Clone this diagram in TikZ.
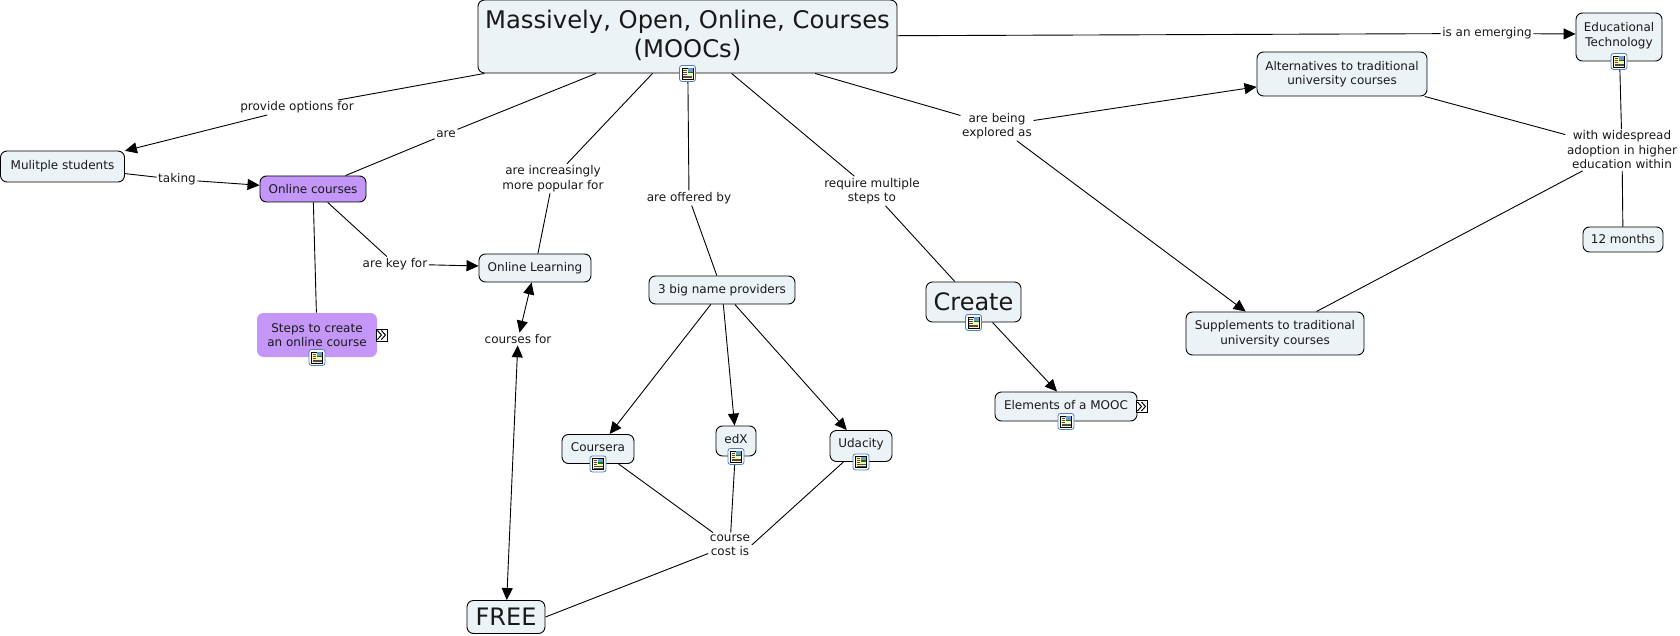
\documentclass[tikz,border=0pt]{standalone}
\usepackage{fontspec}
\setmainfont{DejaVu Sans}
\usetikzlibrary{arrows.meta}
\definecolor{nodefill}{HTML}{ECF3F6}
\definecolor{nodepurple}{HTML}{C496F8}
\definecolor{iconblue}{HTML}{4A80C8}
\definecolor{iconpage}{HTML}{FFF6B8}
\newcommand{\raisedtxt}[1]{\raisebox{1pt}[\dimexpr\height-1pt][\depth]{#1}}
\tikzset{
    mynode/.style = {rectangle, rounded corners=6.5pt, draw=black, line width=0.9pt, align=center, fill=nodefill, inner sep=0pt, font=\fontsize{12}{14.5}\selectfont, text=black!90},
    mynodep/.style = {mynode, fill=nodepurple},
    mynodeq/.style = {mynode, fill=nodepurple, draw=none},
    mynodel/.style = {mynode, font=\fontsize{24.25}{29}\selectfont},
    mynodem/.style = {mynode, font=\fontsize{24}{28}\selectfont},
    linklabel/.style = {rectangle, align=center, inner sep=1.5pt, fill=white, font=\fontsize{12}{14.5}\selectfont, text=black!90},
    edgen/.style = {-, line width=0.9pt, black},
    edgea/.style = {-{Triangle[length=12pt,width=11pt]}, line width=0.9pt, black},
    edged/.style = {{Triangle[length=12pt,width=11pt]}-{Triangle[length=12pt,width=11pt]}, line width=0.9pt, black},
    noteicon/.pic = {
        \draw[iconblue, line width=0.8pt, fill=white, rounded corners=2.5pt] (-8,-8) rectangle (8,8);
        \draw[black, line width=0.6pt, fill=iconpage] (-5.5,-5.5) rectangle (5.5,5.5);
        \fill[iconblue!80] (0,-5) rectangle (5,0);
        \fill[green!50!black] (0,-1.5) rectangle (5,0);
        \foreach \yy in {-3.5,-1.5,0.5} {\draw[black!70, line width=0.5pt] (-4.5,\yy) -- (-1,\yy);}
        \draw[black!70, line width=0.5pt] (-4.5,2.5) -- (4.5,2.5);
        \draw[black!70, line width=0.5pt] (-4.5,4.2) -- (4.5,4.2);
    },
    expandicon/.pic = {
        \draw[black, line width=0.9pt, fill=white] (-5.5,-6) rectangle (5.5,6);
        \draw[black, line width=1pt] (-4,-4.5) -- (0,0) -- (-4,4.5);
        \draw[black, line width=1pt] (0,-4.5) -- (4,0) -- (0,4.5);
    }
}
\begin{document}
\begin{tikzpicture}[x=1pt,y=-1pt]
\path[use as bounding box] (0,0) rectangle (1680,636);
%
\node[mynodel, minimum width=419pt, minimum height=73pt] at (687.5,36.5) (moocs) {\raisedtxt{Massively, Open, Online, Courses}\\\raisedtxt{(MOOCs)}};
\node[mynode, minimum width=124pt, minimum height=31pt] at (62.5,166.5) (students) {Mulitple students};
\node[mynodep, minimum width=106pt, minimum height=26pt] at (313,189) (online) {Online courses};
\node[mynodeq, minimum width=120pt, minimum height=44pt] at (317,335) (steps) {Steps to create\\an online course};
\node[mynode, minimum width=112pt, minimum height=28pt] at (535,268) (learning) {Online Learning};
\node[mynode, minimum width=146pt, minimum height=28pt] at (722,290) (providers) {3 big name providers};
\node[mynode, minimum width=72pt, minimum height=29pt] at (598,449) (coursera) {\raisedtxt{Coursera}};
\node[mynode, minimum width=40pt, minimum height=30pt] at (736,441) (edx) {\raisedtxt{edX}};
\node[mynode, minimum width=62pt, minimum height=31pt] at (861,446) (udacity) {\raisedtxt{Udacity}};
\node[mynodem, minimum width=78pt, minimum height=33pt] at (506,617) (free) {FREE};
\node[mynodem, minimum width=95pt, minimum height=40pt] at (973.5,302) (create) {Create};
\node[mynode, minimum width=142pt, minimum height=29pt] at (1066,406.5) (elements) {\raisedtxt{Elements of a MOOC}};
\node[mynode, minimum width=170pt, minimum height=44pt] at (1342,74) (alternatives) {Alternatives to traditional\\university courses};
\node[mynode, minimum width=178pt, minimum height=43pt] at (1275,333.5) (supplements) {Supplements to traditional\\university courses};
\node[mynode, minimum width=86pt, minimum height=48pt] at (1619,37) (edtech) {\raisedtxt{Educational}\\\raisedtxt{Technology}};
\node[mynode, minimum width=80pt, minimum height=25pt] at (1623,239.5) (months) {12 months};
%
\node[linklabel] at (297,107.5) (lblprovide) {provide options for};
\node[linklabel] at (446,134) (lblare) {are};
\node[linklabel] at (553,178.5) (lblpopular) {are increasingly\\more popular for};
\node[linklabel] at (689,198) (lbloffered) {are offered by};
\node[linklabel] at (872,191) (lblrequire) {require multiple\\steps to};
\node[linklabel] at (997,126) (lblexplored) {are being\\explored as};
\node[linklabel] at (1487,33.5) (lblemerging) {is an emerging};
\node[linklabel] at (1622,150) (lblwithin) {with widespread\\adoption in higher\\education within};
\node[linklabel] at (177,179.5) (lbltaking) {taking};
\node[linklabel] at (395,264) (lblkey) {are key for};
\node[linklabel] at (518,339) (lblcourses) {courses for};
\node[linklabel] at (730,545) (lblcost) {course\\cost is};
%
\draw[edgen] (moocs) edge (lblprovide);
\draw[edgea] (lblprovide) edge (students);
\draw[edgen] (students) edge (lbltaking);
\draw[edgea] (lbltaking) edge (online);
\draw[edgen] (moocs) edge (lblare);
\draw[edgen] (lblare) edge (online);
\draw[edgen] (online) edge (steps);
\draw[edgen] (online) edge (lblkey);
\draw[edgea] (lblkey) edge ([yshift=2pt]learning.west);
\draw[edgen] (moocs) edge (lblpopular);
\draw[edgen] (lblpopular) edge (learning);
\draw[edged] (learning) edge (lblcourses);
\draw[edged] (lblcourses) edge (free);
\draw[edgen] (moocs) edge (lbloffered);
\draw[edgen] (lbloffered) edge (providers);
\draw[edgea] (providers) edge (coursera);
\draw[edgea] (providers) edge (edx);
\draw[edgea] (providers) edge (udacity);
\draw[edgen] (coursera) edge (lblcost);
\draw[edgen] (edx) edge (lblcost);
\draw[edgen] (udacity) edge (lblcost.east);
\draw[edgen] (lblcost) edge (free.east);
\draw[edgen] (moocs) edge (lblrequire);
\draw[edgen] (lblrequire) edge (create);
\draw[edgea] (create) edge ([xshift=-9pt]elements.north);
\draw[edgen] (moocs) edge (lblexplored);
\draw[edgea] (lblexplored) edge (alternatives);
\draw[edgea] (lblexplored) edge (supplements);
\draw[edgen] (moocs) edge (lblemerging);
\draw[edgea] (lblemerging) edge ([yshift=3pt]edtech.west);
\draw[edgen] (edtech) edge (lblwithin);
\draw[edgen] (alternatives) edge (lblwithin);
\draw[edgen] (supplements) edge (lblwithin);
\draw[edgen] (lblwithin) edge (months);
%
\pic at (moocs.south) {noteicon};
\pic at (steps.south) {noteicon};
\pic at (coursera.south) {noteicon};
\pic at (edx.south) {noteicon};
\pic at (udacity.south) {noteicon};
\pic at (create.south) {noteicon};
\pic at (elements.south) {noteicon};
\pic at (edtech.south) {noteicon};
\pic at ([xshift=4pt]steps.east) {expandicon};
\pic at ([xshift=4pt]elements.east) {expandicon};

\end{tikzpicture}
\end{document}
